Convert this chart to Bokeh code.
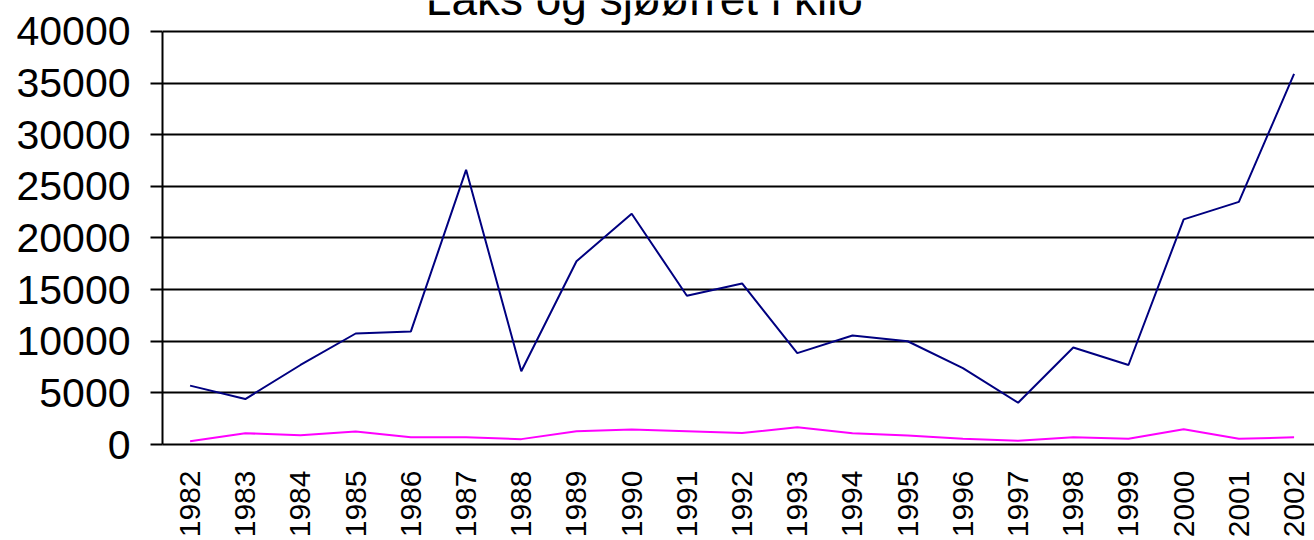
import math
from bokeh.plotting import figure
from bokeh.models import Range1d, FixedTicker, Label, ColumnDataSource
from bokeh.embed import file_html
from bokeh.resources import INLINE

# ---- data -------------------------------------------------------------
years = ["1982", "1983", "1984", "1985", "1986", "1987", "1988", "1989", "1990",
         "1991", "1992", "1993", "1994", "1995", "1996", "1997", "1998", "1999",
         "2000", "2001", "2002"]
laks = [5700, 4400, 7700, 10750, 10950, 26600, 7100, 17750, 22350, 14400, 15600,
        8850, 10550, 10000, 7400, 4050, 9400, 7700, 21800, 23500, 35900]
sjoorret = [320, 1090, 900, 1260, 710, 710, 520, 1290, 1450, 1290, 1110,
            1670, 1090, 870, 550, 360, 700, 550, 1480, 550, 700]
y_ticks = [0, 5000, 10000, 15000, 20000, 25000, 30000, 35000, 40000]
title_text = "Laks og sjøørret i kilo"

FONT = "Liberation Sans"

idx = list(range(len(years)))
src = ColumnDataSource(dict(x=idx, laks=laks, sjo=sjoorret))

# frame spans the full height above the x axis; the y axis itself is bounded
p = figure(width=1314, height=540, output_backend="svg", toolbar_location=None,
           x_range=Range1d(-0.5, 20.37), y_range=Range1d(0, 43000),
           min_border_left=162, min_border_right=0, min_border_top=0,
           min_border_bottom=96)
p.title.visible = False
p.outline_line_color = None
p.background_fill_color = "white"
p.border_fill_color = "white"

# grid
p.xgrid.grid_line_color = None
p.ygrid.ticker = FixedTicker(ticks=y_ticks)
p.ygrid.grid_line_color = "black"
p.ygrid.grid_line_width = 2

# y axis
p.yaxis.ticker = FixedTicker(ticks=y_ticks)
p.yaxis.bounds = (0, 40000)
p.yaxis.axis_line_color = "black"
p.yaxis.axis_line_width = 2
p.yaxis.major_tick_out = 12
p.yaxis.major_tick_in = 0
p.yaxis.major_tick_line_width = 2
p.yaxis.minor_tick_line_color = None
p.yaxis.major_label_text_font = FONT
p.yaxis.major_label_text_font_size = "41px"
p.yaxis.major_label_text_color = "black"
p.yaxis.major_label_standoff = 20

# x axis
p.xaxis.ticker = FixedTicker(ticks=idx)
p.xaxis.major_label_overrides = {i: y for i, y in zip(idx, years)}
p.xaxis.axis_line_color = "black"
p.xaxis.axis_line_width = 2
p.xaxis.major_tick_out = 0
p.xaxis.major_tick_in = 0
p.xaxis.minor_tick_line_color = None
p.xaxis.major_label_orientation = math.pi / 2
p.xaxis.major_label_text_font = FONT
p.xaxis.major_label_text_font_size = "30px"
p.xaxis.major_label_text_color = "black"
p.xaxis.major_label_standoff = 26

# series
p.line("x", "laks", source=src, line_color="#000080", line_width=2)
p.line("x", "sjo", source=src, line_color="#FF00FF", line_width=2)

# title (partly above the top edge, as in the reference)
p.add_layout(Label(x=8.23, y=43190, text=title_text, text_align="center",
                   text_baseline="alphabetic", text_font=FONT,
                   text_font_size="46px", text_color="black"))

open("out.html", "w").write(file_html(p, INLINE))
